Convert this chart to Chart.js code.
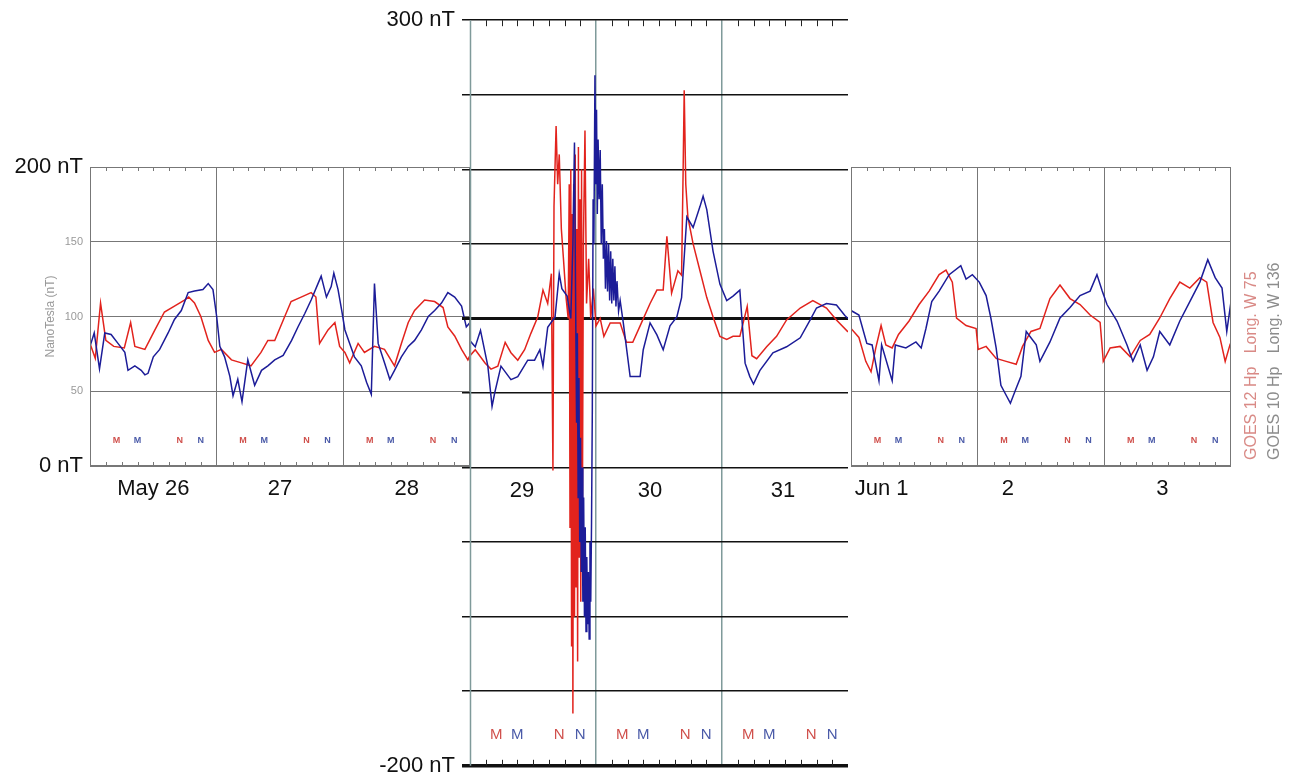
<!DOCTYPE html>
<html>
<head>
<title>GOES Hp magnetometer, May 26 - Jun 3</title>
<script src="https://cdn.jsdelivr.net/npm/chart.js"></script>
<style>
    body { margin: 0; background: #fff; overflow: hidden; }
    .panel { position: absolute; left: 0; top: 0; width: 1292px; height: 774px; }
    #stormChart { height: 786px; }
</style>
</head>
<body>
<canvas id="mayChart" class="panel" width="1292" height="774"></canvas>
<canvas id="junChart" class="panel" width="1292" height="774"></canvas>
<canvas id="stormChart" class="panel" width="1292" height="786"></canvas>
<script>
// hours since 00 UT of the first day of each panel, values in nT
const mayDays = ['May 26', '27', '28'];
const stormDays = ['29', '30', '31'];
const junDays = ['Jun 1', '2', '3'];

const mayG12Hours = [0, 1, 2, 3, 4.5, 6.5, 7.7, 8.5, 10.4, 12.3, 14.1, 16, 17.9, 18.7, 19.8, 21, 22.4, 23.6, 24.9, 26.8, 28.7, 30.5, 32.4, 33.7, 35, 36.9, 38.1, 40, 41.9, 42.8, 43.5, 45.1, 46.4, 47.3, 48.3, 49.2, 50.8, 52, 53.9, 55.8, 57.7, 59, 60.3, 61.5, 63.4, 65.3, 66.9, 67.8, 69.1, 70.4, 71.6, 72];
const mayG12 = [82, 72, 109, 84, 80, 79, 96, 80, 78, 91, 103, 107, 111, 113, 109, 100, 84, 76, 78, 71, 69, 67, 76, 84, 84, 100, 110, 113, 116, 113, 82, 91, 96, 80, 76, 69, 82, 76, 80, 78, 67, 82, 96, 104, 111, 110, 106, 93, 87, 78, 71, 74];
const mayG10Hours = [0, 0.8, 1.8, 2.8, 4, 5.3, 6.6, 7.2, 8.5, 9.7, 10.4, 11, 12, 13.2, 14.8, 16, 17.3, 18.6, 19.8, 21.4, 22.4, 23.3, 24, 24.6, 25.5, 26.5, 27.1, 28, 28.8, 29.9, 31.2, 32.5, 33.7, 35, 36.6, 38.2, 39.4, 40.7, 41.9, 43.2, 43.8, 44.8, 45.7, 46.2, 47, 47.7, 48.3, 49.2, 50.1, 51.4, 52.4, 53.3, 53.9, 54.6, 55.8, 56.8, 57.7, 59, 60.3, 61.5, 62.8, 64.1, 65.3, 66.6, 67.8, 69.1, 70.4, 71.3, 72];
const mayG10 = [80, 89, 65, 89, 88, 82, 76, 64, 67, 64, 61, 62, 73, 78, 89, 98, 104, 116, 117, 118, 122, 118, 100, 80, 73, 60, 47, 58, 43, 71, 54, 64, 67, 71, 74, 84, 93, 102, 111, 122, 127, 113, 120, 129, 118, 104, 91, 82, 73, 67, 56, 48, 122, 82, 69, 58, 64, 73, 80, 84, 91, 100, 104, 109, 116, 113, 107, 93, 96];

const stormG12Hours = [0, 1, 2.9, 4, 5.3, 6.7, 7.8, 9.1, 10.4, 11.6, 12.9, 13.9, 14.8, 15.5, 15.8, 16, 16.4, 16.7, 17, 17.4, 17.8, 18.3, 18.7, 18.9, 19.05, 19.2, 19.35, 19.5, 19.6, 19.75, 19.9, 20.05, 20.2, 20.35, 20.5, 20.65, 20.8, 20.95, 21.1, 21.25, 21.4, 21.6, 21.9, 22.2, 22.6, 23, 23.5, 24, 24.8, 25.5, 26.7, 28.6, 29.8, 31, 32.4, 34.3, 35.6, 36.8, 37.5, 38.4, 39.6, 40.3, 40.6, 40.8, 41.1, 41.5, 42.5, 43.8, 45.1, 46.3, 47.6, 48.9, 50.1, 51.4, 52.8, 53.7, 54.6, 56.5, 58.4, 60.3, 62.9, 65.3, 67.9, 69.8, 72];
const stormG12 = [75, 79, 70, 66, 68, 84, 77, 72, 79, 90, 101, 119, 110, 130, -2, 175, 229, 190, 210, 160, 140, 114, 100, 190, -40, 200, -120, 170, -165, 190, -100, 210, -80, 160, -130, 215, -60, 180, -90, 200, -40, 150, 226, 110, 140, 100, 120, 95, 100, 88, 97, 97, 84, 84, 95, 110, 119, 119, 155, 117, 132, 129, 200, 253, 190, 168, 150, 132, 114, 101, 88, 86, 88, 88, 108, 75, 73, 81, 88, 99, 107, 112, 107, 99, 91];
const stormG10Hours = [0, 1, 2, 3.4, 4.2, 4.7, 5.9, 7.8, 9.1, 11, 12.3, 13.3, 13.9, 14.8, 16.2, 17, 17.5, 18.5, 19.2, 19.6, 19.9, 20.1, 20.3, 20.45, 20.6, 20.75, 20.9, 21.05, 21.2, 21.35, 21.5, 21.65, 21.8, 21.95, 22.1, 22.25, 22.4, 22.55, 22.7, 22.85, 23, 23.15, 23.3, 23.45, 23.6, 23.8, 23.95, 24.1, 24.25, 24.4, 24.6, 24.8, 25, 25.2, 25.4, 25.6, 25.8, 26, 26.2, 26.4, 26.6, 26.8, 27, 27.2, 27.4, 27.6, 27.8, 28, 28.3, 28.6, 29.2, 30.5, 32.4, 33, 34.3, 35.6, 36.8, 38.1, 39.4, 40.3, 41.3, 42.5, 43.8, 44.4, 45.1, 46.3, 47.6, 48.9, 50.1, 51.4, 52.4, 53.3, 54, 55.2, 57.7, 60.3, 62.9, 64.8, 66, 67.9, 69.8, 71.4, 72];
const stormG10 = [85, 81, 92, 68, 41, 50, 68, 59, 61, 72, 72, 79, 68, 94, 101, 130, 120, 115, 100, 150, 218, 120, 30, 90, -20, 60, -50, 20, -70, 0, -90, -20, -100, -40, -110, -60, -105, -70, -115, -50, -90, -37, 40, 180, 150, 263, 190, 240, 170, 220, 180, 213, 150, 190, 140, 160, 120, 152, 118, 150, 112, 145, 110, 140, 112, 135, 108, 125, 105, 112, 97, 61, 61, 79, 97, 89, 79, 95, 101, 114, 168, 161, 175, 182, 173, 145, 123, 112, 115, 119, 70, 61, 56, 65, 77, 81, 87, 99, 107, 110, 109, 102, 100];

const junG12Hours = [0, 1.5, 2.8, 3.8, 4.7, 5.7, 6.6, 7.8, 9, 11, 12.9, 14.8, 16.7, 18, 19.2, 20, 21.8, 23.7, 24.1, 25.6, 27.5, 29.4, 31.3, 32.5, 34.1, 35.8, 37.7, 39.6, 41.5, 43.4, 45.3, 47.2, 47.8, 49.1, 51, 52.9, 54.8, 56.6, 58.5, 60.4, 62.3, 64.2, 66.1, 67.4, 68.6, 69.9, 70.9, 71.8, 72];
const junG12 = [92, 86, 70, 63, 79, 94, 81, 79, 88, 97, 108, 117, 128, 131, 123, 99, 94, 92, 78, 80, 72, 70, 68, 80, 90, 92, 112, 121, 112, 108, 101, 96, 70, 79, 80, 73, 84, 88, 99, 112, 123, 119, 126, 123, 96, 86, 70, 81, 80];
const junG10Hours = [0, 1.5, 3, 4, 5.3, 5.8, 7.8, 8.4, 10.4, 12.3, 13.3, 14.2, 15.3, 16.7, 18.6, 20.8, 21.8, 23, 24.3, 25.6, 26.5, 27.5, 28.4, 29.6, 30.2, 31.3, 32.2, 33.2, 35.1, 35.8, 37.7, 39.6, 41.5, 43.4, 45.3, 46.6, 47.6, 48.5, 50.4, 52.3, 53.4, 54.8, 56.1, 57.3, 58.5, 60.4, 62.3, 64.2, 66.1, 67.6, 69, 70.3, 71.2, 72];
const junG10 = [104, 101, 82, 81, 57, 81, 57, 81, 79, 83, 79, 92, 110, 117, 128, 134, 125, 128, 123, 114, 99, 79, 54, 46, 42, 52, 60, 90, 81, 70, 83, 99, 106, 114, 117, 128, 117, 108, 97, 81, 70, 81, 64, 73, 90, 81, 97, 110, 123, 138, 126, 119, 90, 110];

// local midnight (M) and noon (N) marks for each satellite, hours UT
const markerHours = [5, 9, 17, 21];
const markerText = ['M', 'M', 'N', 'N'];
const legendLines = ['GOES 12 Hp   Long. W 75', 'GOES 10 Hp   Long. W 136'];

const RED = '#e2231d';
const BLUE = '#1c1c98';
const FONT = "'Liberation Sans', Arial, sans-serif";
const BIG = { family: FONT, size: 22 };
const SMALL = { family: FONT, size: 11 };

function toPoints(hours, values) {
    return hours.map((h, i) => ({ x: h, y: values[i] }));
}

const framePlugin = {
    id: 'frame',
    afterDraw(chart, args, opts) {
        const ctx = chart.ctx;
        const a = chart.chartArea;
        const xs = chart.scales.x;
        const ys = chart.scales.y;
        ctx.save();
        if (opts.mid) {
            ctx.strokeStyle = '#7f9a9a';
            ctx.lineWidth = 1.5;
            ctx.beginPath();
            ctx.moveTo(a.left + 0.5, a.top);
            ctx.lineTo(a.left + 0.5, a.bottom);
            ctx.stroke();
        } else {
            ctx.strokeStyle = '#777';
            ctx.lineWidth = 1;
            ctx.strokeRect(a.left + 0.5, a.top + 0.5, a.right - a.left - 1, a.bottom - a.top - 1);
        }
        // small 3-hour ticks on top and bottom edges
        ctx.strokeStyle = opts.mid ? '#222' : '#777';
        ctx.lineWidth = 1;
        const len = opts.mid ? 6 : 4;
        for (let h = 3; h < 72; h += 3) {
            if (h % 24 === 0) continue;
            const px = Math.round(xs.getPixelForValue(h)) + 0.5;
            ctx.beginPath();
            ctx.moveTo(px, a.top);
            ctx.lineTo(px, a.top + len);
            ctx.moveTo(px, a.bottom);
            ctx.lineTo(px, a.bottom - len);
            ctx.stroke();
        }
        // M / N marks
        ctx.font = opts.markerFont;
        ctx.textAlign = 'center';
        ctx.textBaseline = 'middle';
        const my = ys.getPixelForValue(opts.markerValue);
        for (let d = 0; d < 3; d++) {
            markerHours.forEach((h, k) => {
                ctx.fillStyle = k % 2 === 0 ? '#d0504c' : '#4a5aa8';
                ctx.fillText(markerText[k], xs.getPixelForValue(d * 24 + h), my);
            });
        }
        // rotated satellite legend
        if (opts.legend) {
            ctx.font = "16px " + FONT;
            ctx.textAlign = 'left';
            ctx.textBaseline = 'middle';
            legendLines.forEach((t, i) => {
                ctx.save();
                ctx.translate(a.right + 21 + i * 23, a.bottom - 6);
                ctx.rotate(-Math.PI / 2);
                ctx.fillStyle = i === 0 ? '#d98a86' : '#8c8c8c';
                ctx.fillText(t, 0, 0);
                ctx.restore();
            });
        }
        ctx.restore();
    }
};

function buildPanel(id, p) {
    const isTick = (c, v) => c.tick && c.tick.value === v;
    return new Chart(document.getElementById(id), {
        type: 'line',
        data: {
            datasets: [
                { label: 'GOES 10', data: toPoints(p.g10Hours, p.g10), borderColor: BLUE, order: 0 },
                { label: 'GOES 12', data: toPoints(p.g12Hours, p.g12), borderColor: RED, order: 1 }
            ]
        },
        options: {
            responsive: false,
            animation: false,
            devicePixelRatio: 1,
            elements: { point: { radius: 0 }, line: { borderWidth: 1.5, tension: 0 } },
            layout: { padding: p.padding },
            plugins: {
                legend: { display: false },
                tooltip: { enabled: false },
                frame: { mid: p.mid, markerValue: p.markerValue, markerFont: p.markerFont, legend: p.legend }
            },
            scales: {
                x: {
                    type: 'linear', min: 0, max: 72, position: 'bottom',
                    ticks: { display: false, stepSize: 24 },
                    grid: {
                        drawTicks: false,
                        color: c => {
                            const v = c.tick ? c.tick.value : -1;
                            if (v > 0 && v < 72) return p.mid ? '#7f9a9a' : '#777';
                            return 'rgba(0,0,0,0)';
                        },
                        lineWidth: p.mid ? 1.5 : 1
                    },
                    border: { display: false }
                },
                xl: {
                    type: 'linear', min: 0, max: 72,
                    position: p.mid ? { y: 0 } : 'bottom',
                    grid: { display: false, drawTicks: false },
                    border: { display: false },
                    afterBuildTicks: axis => { axis.ticks = p.labelHours.map(v => ({ value: v })); },
                    afterFit: axis => { if (!p.mid) axis.height = 40; },
                    ticks: {
                        autoSkip: false, maxRotation: 0, padding: 10,
                        font: BIG, color: '#111',
                        callback: (v, i) => p.days[i]
                    }
                },
                y: {
                    type: 'linear', min: p.yMin, max: p.yMax, position: 'left',
                    afterFit: axis => { axis.width = p.yAxisWidth; },
                    ticks: {
                        display: p.yLabels, stepSize: 50, autoSkip: false, padding: 7,
                        callback: p.yLabel,
                        font: c => (isTick(c, p.yMin) || isTick(c, p.yMax)) ? BIG : SMALL,
                        color: c => (isTick(c, p.yMin) || isTick(c, p.yMax)) ? '#111' : '#999'
                    },
                    grid: {
                        drawTicks: p.mid, tickLength: 8,
                        color: p.mid ? '#111' : '#777',
                        lineWidth: c => {
                            if (!p.mid) return 1;
                            if (isTick(c, -200)) return 3.5;
                            if (isTick(c, 100)) return 3;
                            return 1.5;
                        }
                    },
                    border: { display: false },
                    title: {
                        display: p.yTitle, text: 'NanoTesla (nT)', color: '#999',
                        font: { family: FONT, size: 12 }, padding: { top: 43, bottom: 0 }
                    }
                }
            }
        },
        plugins: [framePlugin]
    });
}

buildPanel('mayChart', {
    g12Hours: mayG12Hours, g12: mayG12, g10Hours: mayG10Hours, g10: mayG10,
    days: mayDays, labelHours: [12, 36, 60],
    padding: { left: 0, top: 167, right: 822, bottom: 268 },
    yMin: 0, yMax: 200, yAxisWidth: 90, yLabels: true, yTitle: true,
    yLabel: v => v === 0 ? '0 nT' : (v === 200 ? '200 nT' : String(v)),
    mid: false, markerValue: 17, markerFont: "bold 9px " + FONT, legend: false
});

buildPanel('junChart', {
    g12Hours: junG12Hours, g12: junG12, g10Hours: junG10Hours, g10: junG10,
    days: junDays, labelHours: [5.8, 29.7, 59],
    padding: { left: 851, top: 167, right: 61, bottom: 268 },
    yMin: 0, yMax: 200, yAxisWidth: 0, yLabels: false, yTitle: false,
    yLabel: v => '',
    mid: false, markerValue: 17, markerFont: "bold 9px " + FONT, legend: true
});

buildPanel('stormChart', {
    g12Hours: stormG12Hours, g12: stormG12, g10Hours: stormG10Hours, g10: stormG10,
    days: stormDays, labelHours: [9.9, 34.3, 59.6],
    padding: { left: 0, top: 20, right: 444, bottom: 9 },
    yMin: -200, yMax: 300, yAxisWidth: 470, yLabels: true, yTitle: false,
    yLabel: v => v === 300 ? '300 nT' : (v === -200 ? '-200 nT' : ''),
    mid: true, markerValue: -179, markerFont: "15px 'Liberation Sans Narrow', " + FONT, legend: false
});
</script>
</body>
</html>
